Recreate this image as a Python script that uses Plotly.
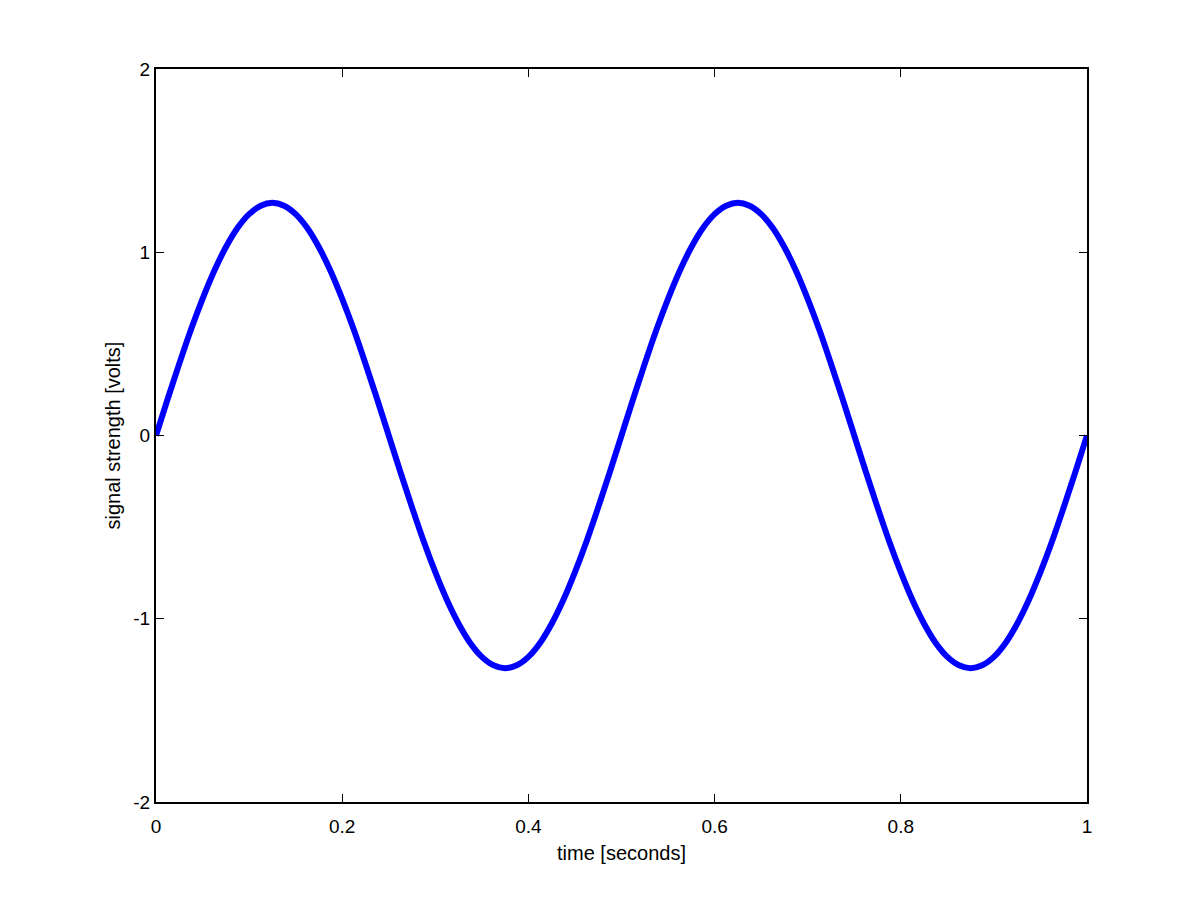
import plotly.graph_objects as go

time_s = [0.0, 0.0125, 0.025, 0.0375, 0.05, 0.0625, 0.075, 0.0875, 0.1, 0.1125,
          0.125, 0.1375, 0.15, 0.1625, 0.175, 0.1875, 0.2, 0.2125, 0.225, 0.2375,
          0.25, 0.2625, 0.275, 0.2875, 0.3, 0.3125, 0.325, 0.3375, 0.35, 0.3625,
          0.375, 0.3875, 0.4, 0.4125, 0.425, 0.4375, 0.45, 0.4625, 0.475, 0.4875,
          0.5, 0.5125, 0.525, 0.5375, 0.55, 0.5625, 0.575, 0.5875, 0.6, 0.6125,
          0.625, 0.6375, 0.65, 0.6625, 0.675, 0.6875, 0.7, 0.7125, 0.725, 0.7375,
          0.75, 0.7625, 0.775, 0.7875, 0.8, 0.8125, 0.825, 0.8375, 0.85, 0.8625,
          0.875, 0.8875, 0.9, 0.9125, 0.925, 0.9375, 0.95, 0.9625, 0.975, 0.9875, 1.0]
volts = [0.0, 0.199, 0.392, 0.577, 0.746, 0.898, 1.027, 1.132, 1.208, 1.254,
         1.27, 1.254, 1.208, 1.132, 1.027, 0.898, 0.746, 0.577, 0.392, 0.199,
         0.0, -0.199, -0.392, -0.577, -0.746, -0.898, -1.027, -1.132, -1.208, -1.254,
         -1.27, -1.254, -1.208, -1.132, -1.027, -0.898, -0.746, -0.577, -0.392, -0.199,
         0.0, 0.199, 0.392, 0.577, 0.746, 0.898, 1.027, 1.132, 1.208, 1.254,
         1.27, 1.254, 1.208, 1.132, 1.027, 0.898, 0.746, 0.577, 0.392, 0.199,
         0.0, -0.199, -0.392, -0.577, -0.746, -0.898, -1.027, -1.132, -1.208, -1.254,
         -1.27, -1.254, -1.208, -1.132, -1.027, -0.898, -0.746, -0.577, -0.392, -0.199, 0.0]

x_ticks = [0, 0.2, 0.4, 0.6, 0.8, 1]
x_labels = ["0", "0.2", "0.4", "0.6", "0.8", "1"]
y_ticks = [-2, -1, 0, 1, 2]
y_labels = ["-2", "-1", "0", "1", "2"]

FONT = "Liberation Sans, Arial, Helvetica, sans-serif"

fig = go.Figure(go.Scatter(
    x=time_s, y=volts, mode="lines",
    line=dict(color="#0000ff", width=6, shape="spline", smoothing=1.0),
    showlegend=False, hoverinfo="skip"))

axis_common = dict(
    showgrid=False, zeroline=False, showline=True, linecolor="black",
    linewidth=2, mirror="ticks", ticks="inside", ticklen=8, tickwidth=1,
    tickcolor="black", tickfont=dict(family=FONT, size=19, color="black"),
)

fig.update_xaxes(range=[0, 1], tickvals=x_ticks, ticktext=x_labels,
                 ticklabelstandoff=6,
                 title=dict(text="time [seconds]", standoff=10,
                            font=dict(family=FONT, size=20, color="black")),
                 **axis_common)
fig.update_yaxes(range=[-2, 2], tickvals=y_ticks, ticktext=y_labels,
                 title=dict(text="signal strength [volts]", standoff=7,
                            font=dict(family=FONT, size=20, color="black")),
                 **axis_common)

fig.update_layout(
    width=1200, height=900,
    margin=dict(l=148, r=121, t=61, b=106),
    paper_bgcolor="white", plot_bgcolor="white",
)

fig.write_html("out.html")
